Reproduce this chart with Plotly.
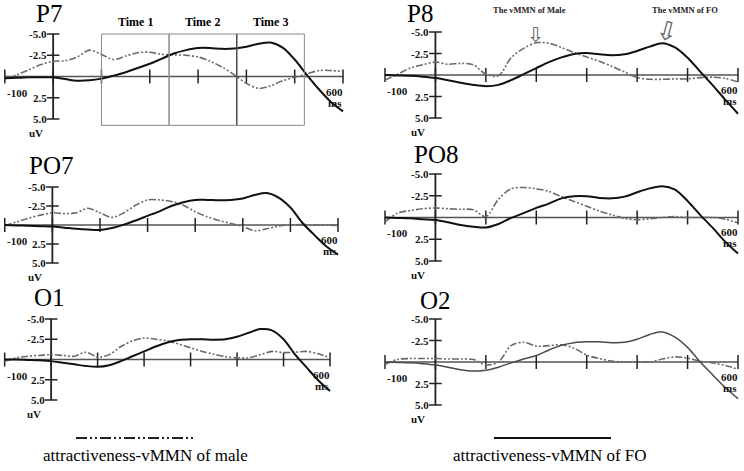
import plotly.graph_objects as go

# ---------------- data ----------------
TIME_MS = list(range(-100, 601, 25))
X_TICKS = list(range(-100, 601, 100))
Y_TICKS = [-5.0, -2.5, 2.5, 5.0]
ELECTRODES = ["P7", "P8", "PO7", "PO8", "O1", "O2"]

MALE_P7 = [0.3, -0.2, -0.8, -1.4, -1.8, -1.85, -2.3, -3.1, -2.6, -2.0, -2.4, -2.8, -2.85, -2.6, -2.55,
           -2.5, -2.3, -1.8, -1.1, -0.2, 0.8, 1.4, 1.1, 0.5, 0.1, -0.3, -0.7, -0.7, -0.6]
FO_P7 = [0.2, 0.15, 0.1, 0.1, 0.1, 0.3, 0.5, 0.45, 0.25, -0.1, -0.5, -1.0, -1.5, -2.1, -2.7,
         -3.1, -3.35, -3.35, -3.25, -3.3, -3.5, -3.85, -4.0, -3.4, -2.0, -0.2, 1.5, 3.0, 4.1]

MALE_P8 = [0.6, -0.1, -0.8, -1.2, -1.5, -1.25, -1.35, -1.2, -0.1, 0.1, -2.0, -3.1, -3.75, -3.7, -3.2,
           -2.6, -2.1, -1.6, -1.0, -0.35, 0.3, 0.5, 0.5, 0.45, 0.45, 0.3, 0.25, 0.4, 0.8]
FO_P8 = [0.0, 0.05, 0.1, 0.2, 0.35, 0.6, 0.9, 1.15, 1.3, 1.15, 0.6, -0.1, -0.8, -1.5, -2.05,
         -2.45, -2.55, -2.4, -2.3, -2.4, -2.8, -3.3, -3.7, -3.2, -2.0, -0.4, 1.2, 2.9, 4.5]

MALE_PO7 = [0.1, -0.4, -0.9, -1.3, -1.6, -1.5, -1.6, -2.2, -1.6, -1.0, -1.6, -2.6, -3.3, -3.3, -3.1,
            -2.6, -1.75, -1.1, -0.6, -0.2, 0.2, 0.75, 0.5, 0.15, 0.0, -0.05, 0.0, 0.0, 0.05]
FO_PO7 = [0.0, 0.05, 0.1, 0.15, 0.2, 0.35, 0.5, 0.6, 0.65, 0.4, -0.05, -0.6, -1.2, -1.8, -2.5,
          -3.0, -3.3, -3.3, -3.25, -3.3, -3.5, -3.95, -4.2, -3.6, -2.3, -0.3, 1.3, 2.8, 3.9]

MALE_PO8 = [0.5, -0.5, -0.8, -1.0, -1.1, -1.0, -0.95, -0.9, -0.1, -2.1, -3.3, -3.45, -3.3, -3.0, -2.4,
            -1.85, -1.3, -0.75, -0.3, 0.1, 0.25, 0.15, 0.0, -0.1, 0.0, 0.0, 0.0, 0.2, 0.6]
FO_PO8 = [0.0, 0.05, 0.1, 0.2, 0.3, 0.55, 0.85, 1.05, 1.15, 0.75, 0.05, -0.5, -1.1, -1.6, -2.2,
          -2.45, -2.45, -2.25, -2.2, -2.4, -2.9, -3.35, -3.6, -3.2, -1.9, -0.3, 1.2, 2.8, 4.15]

MALE_O1 = [0.2, -0.2, -0.4, -0.5, -0.6, -0.5, -0.4, -0.9, -0.3, -0.6, -1.6, -2.3, -2.65, -2.5, -2.3,
           -1.9, -1.45, -1.0, -0.65, -0.35, -0.2, -0.2, -0.6, -1.0, -0.85, -0.9, -1.0, -0.7, -0.2]
FO_O1 = [0.0, 0.0, 0.05, 0.1, 0.2, 0.4, 0.6, 0.8, 0.9, 0.7, 0.2, -0.4, -1.0, -1.6, -2.1,
         -2.4, -2.5, -2.5, -2.45, -2.5, -2.8, -3.3, -3.75, -3.6, -2.5, -0.6, 1.0, 2.6, 3.9]

MALE_O2 = [0.3, -0.3, -0.4, -0.4, -0.4, -0.35, -0.35, -0.3, 0.35, 0.0, -1.9, -2.3, -1.85, -1.9, -2.0,
           -1.6, -0.8, -0.4, -0.1, 0.0, 0.0, 0.0, -0.35, -0.6, -0.45, -0.1, 0.1, 0.4, 0.85]
FO_O2 = [0.0, 0.05, 0.1, 0.2, 0.35, 0.6, 0.9, 1.05, 0.95, 0.6, 0.1, -0.35, -0.75, -1.4, -1.95,
         -2.25, -2.35, -2.35, -2.25, -2.3, -2.65, -3.2, -3.5, -2.9, -1.7, 0.0, 1.5, 3.0, 4.25]

MALE = {"P7": MALE_P7, "P8": MALE_P8, "PO7": MALE_PO7, "PO8": MALE_PO8, "O1": MALE_O1, "O2": MALE_O2}
FO = {"P7": FO_P7, "P8": FO_P8, "PO7": FO_PO7, "PO8": FO_PO8, "O1": FO_O1, "O2": FO_O2}

TIME_WINDOW_EDGES = [100, 240, 380, 520]
TIME_LABELS = ["Time 1", "Time 2", "Time 3"]
TIME_BOX_UV = [-5.0, 5.75]

PEAK_MALE_P8 = (200, -4.0)
PEAK_FO_P8 = (459, -3.7)
PEAK_LABELS = ["The vMMN of Male", "The vMMN of FO"]
PEAK_LABEL_MS = [186, 494]
LEGEND_LABELS = ["attractiveness-vMMN of male", "attractiveness-vMMN of FO"]

# ---------------- layout helpers ----------------
W, H = 744, 471
SERIF = "Liberation Serif"
# pixel anchors: x of -100 ms, x of 600 ms, y of -5 uV, y of +5 uV
PANEL_PX = {
    "P7": (3.5, 343, 34, 119),
    "P8": (385, 738, 32, 118),
    "PO7": (3, 338, 187, 263),
    "PO8": (385, 738, 174, 261),
    "O1": (3, 330, 319, 400),
    "O2": (385, 738, 319, 405),
}
TITLE_PX = {"P7": (49, 14), "P8": (420, 14), "PO7": (51, 166), "PO8": (436, 155),
            "O1": (49, 297), "O2": (435, 300)}
XR = [-110, 608]
YR = [-7.0, 7.0]

fig = go.Figure()
layout = dict(width=W, height=H, margin=dict(l=0, r=0, t=0, b=0),
              paper_bgcolor="white", plot_bgcolor="white", showlegend=False,
              font=dict(family=SERIF, color="black"))
annotations = []
shapes = []

male_dash = "7px,2px,2px,2px,2px,2px"
legend_dash = "11px,3px,2px,3px,2px,3px"

for i, name in enumerate(ELECTRODES):
    s = "" if i == 0 else str(i + 1)
    xa, xb, yt, yb = PANEL_PX[name]
    kx = (xb - xa) / 700.0
    ky = (yb - yt) / 10.0
    x0 = xa + (XR[0] + 100) * kx
    x1 = xa + (XR[1] + 100) * kx
    top = yt + (YR[0] + 5) * ky
    bot = yt + (YR[1] + 5) * ky
    layout[f"xaxis{s}"] = dict(domain=[max(0, x0 / W), min(1, x1 / W)], range=XR, visible=False,
                               anchor=f"y{s}", fixedrange=True)
    layout[f"yaxis{s}"] = dict(domain=[1 - bot / H, 1 - top / H], range=[YR[1], YR[0]], visible=False,
                               anchor=f"x{s}", fixedrange=True)
    xr, yr = f"x{s}", f"y{s}"

    # axes
    fig.add_trace(go.Scatter(x=[X_TICKS[0], X_TICKS[-1]], y=[0, 0], mode="lines",
                             line=dict(color="#555", width=1.6), xaxis=xr, yaxis=yr, hoverinfo="skip"))
    fig.add_trace(go.Scatter(x=X_TICKS, y=[0] * len(X_TICKS), mode="markers",
                             marker=dict(symbol="line-ns", size=10, line=dict(color="#222", width=1.5)),
                             xaxis=xr, yaxis=yr, hoverinfo="skip"))
    fig.add_trace(go.Scatter(x=[0, 0], y=[min(Y_TICKS), max(Y_TICKS)], mode="lines",
                             line=dict(color="#222", width=1.8), xaxis=xr, yaxis=yr, hoverinfo="skip"))
    fig.add_trace(go.Scatter(x=[0] * len(Y_TICKS), y=Y_TICKS, mode="markers",
                             marker=dict(symbol="line-ew", size=9, line=dict(color="#222", width=1.5)),
                             xaxis=xr, yaxis=yr, hoverinfo="skip"))

    # waveforms
    fig.add_trace(go.Scatter(x=TIME_MS, y=MALE[name], mode="lines", line_shape="spline",
                             line=dict(color="#6a6a6a", width=1.6, dash=male_dash, smoothing=0.9),
                             xaxis=xr, yaxis=yr, name="male"))
    fo_color = "#4a4a4a" if name == "O2" else "#111"
    fo_width = 1.5 if name == "O2" else 2.0
    fig.add_trace(go.Scatter(x=TIME_MS, y=FO[name], mode="lines", line_shape="spline",
                             line=dict(color=fo_color, width=fo_width, smoothing=0.9),
                             xaxis=xr, yaxis=yr, name="FO"))

    # tick labels
    tfont = dict(family=SERIF, size=11, color="#111")
    for v in Y_TICKS:
        annotations.append(dict(x=0, y=v, xref=xr, yref=yr, text=f"<b>{v:.1f}</b>", showarrow=False,
                                xanchor="right", yanchor="middle", xshift=-4, font=tfont))
    annotations.append(dict(x=X_TICKS[0], y=0, xref=xr, yref=yr, text=f"<b>{X_TICKS[0]}</b>",
                            showarrow=False, xanchor="left", yanchor="top", yshift=-8, font=tfont))
    annotations.append(dict(x=X_TICKS[-1], y=0, xref=xr, yref=yr, text=f"<b>{X_TICKS[-1]}</b>",
                            showarrow=False, xanchor="right", yanchor="top", yshift=-7, xshift=2, font=tfont))
    annotations.append(dict(x=X_TICKS[-1], y=0, xref=xr, yref=yr, text="<b>ms</b>",
                            showarrow=False, xanchor="right", yanchor="top", yshift=-18, xshift=1, font=tfont))
    annotations.append(dict(x=0, y=max(Y_TICKS), xref=xr, yref=yr, text="<b>uV</b>",
                            showarrow=False, xanchor="right", yanchor="top", yshift=-6, xshift=-8, font=tfont))

    # panel title
    tx, ty = TITLE_PX[name]
    annotations.append(dict(x=tx / W, y=1 - ty / H, xref="paper", yref="paper", text=name, showarrow=False,
                            xanchor="center", yanchor="middle", font=dict(family=SERIF, size=25, color="black")))

    if name == "P7":
        for j, lab in enumerate(TIME_LABELS):
            a, b = TIME_WINDOW_EDGES[j], TIME_WINDOW_EDGES[j + 1]
            shapes.append(dict(type="rect", xref=xr, yref=yr, x0=a, x1=b, y0=TIME_BOX_UV[0], y1=TIME_BOX_UV[1],
                               line=dict(color="#8a8a8a", width=1)))
            annotations.append(dict(x=(a + b) / 2, y=TIME_BOX_UV[0], xref=xr, yref=yr, text=f"<b>{lab}</b>",
                                    showarrow=False, xanchor="center", yanchor="bottom", yshift=3,
                                    font=dict(family=SERIF, size=12, color="black")))
        shapes.append(dict(type="line", xref=xr, yref=yr, x0=TIME_WINDOW_EDGES[2], x1=TIME_WINDOW_EDGES[2],
                           y0=TIME_BOX_UV[0], y1=TIME_BOX_UV[1], line=dict(color="#444", width=1.2)))

    if name == "P8":
        for (px, py), lab, lx, ang, fs in zip([PEAK_MALE_P8, PEAK_FO_P8], PEAK_LABELS, PEAK_LABEL_MS,
                                               [0, 15], [21, 26]):
            annotations.append(dict(x=px, y=py, xref=xr, yref=yr, text="\u21e9", showarrow=False,
                                    xanchor="center", yanchor="bottom", yshift=-8, textangle=ang,
                                    font=dict(family="DejaVu Sans", size=fs, color="#666")))
            annotations.append(dict(x=lx, y=min(Y_TICKS), xref=xr, yref=yr, text=f"<b>{lab}</b>",
                                    showarrow=False, xanchor="center", yanchor="middle", yshift=22,
                                    font=dict(family=SERIF, size=8.5, color="#222")))

# legend samples
LEG_PX = [(76, 193, legend_dash, "#222", 145), (494, 611, "solid", "#111", 550)]
for (lx0, lx1, dash, col, tcx), lab in zip(LEG_PX, LEGEND_LABELS):
    shapes.append(dict(type="line", xref="paper", yref="paper", x0=lx0 / W, x1=lx1 / W,
                       y0=1 - 438 / H, y1=1 - 438 / H, line=dict(color=col, width=2, dash=dash)))
    annotations.append(dict(x=tcx / W, y=1 - 455 / H, xref="paper", yref="paper", text=lab, showarrow=False,
                            xanchor="center", yanchor="middle", font=dict(family=SERIF, size=17, color="black")))

layout["annotations"] = annotations
layout["shapes"] = shapes
fig.update_layout(**layout)
fig.write_html("out.html", config={"displayModeBar": False},
               post_script="document.body.style.margin='0';document.body.style.overflow='hidden';")
